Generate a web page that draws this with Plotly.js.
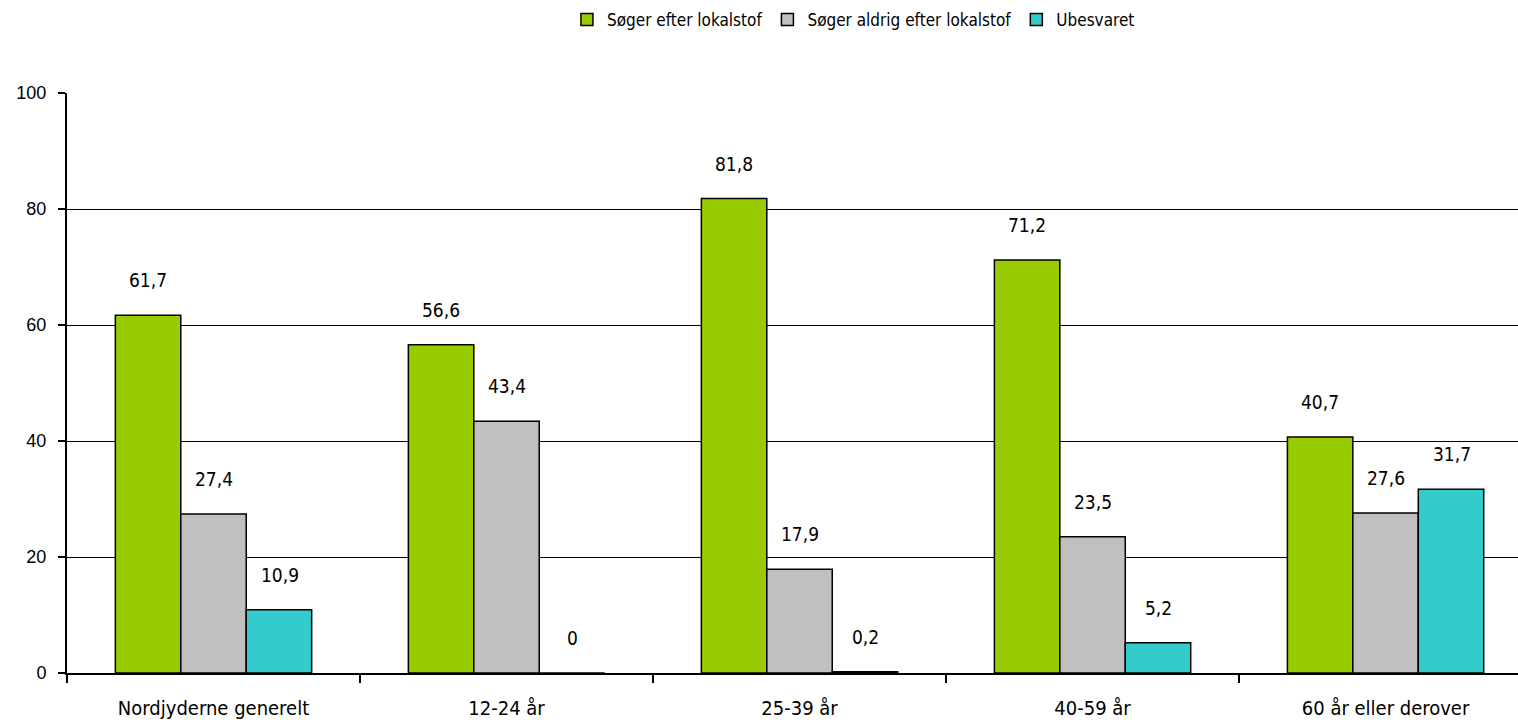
<!DOCTYPE html>
<html><head><meta charset="utf-8">
<script src="https://cdn.plot.ly/plotly-3.0.1.min.js"></script>
<style>html,body{margin:0;padding:0;background:#fff}#c{width:1518px;height:725px}</style>
</head><body><div id="c"></div>
<script>
const categories = ["Nordjyderne generelt", "12-24 år", "25-39 år", "40-59 år", "60 år eller derover"];
const seriesNames = ["Søger efter lokalstof", "Søger aldrig efter lokalstof", "Ubesvaret"];
const soeger = [61.7, 56.6, 81.8, 71.2, 40.7];
const aldrig = [27.4, 43.4, 17.9, 23.5, 27.6];
const ubesvaret = [10.9, 0, 0.2, 5.2, 31.7];
const colors = ["#99cc00", "#c0c0c0", "#33cccc"];
const yTicks = [0, 20, 40, 60, 80, 100];

const textFont = "'DejaVu Sans Condensed', Tahoma, 'DejaVu Sans', sans-serif";
const series = [soeger, aldrig, ubesvaret];
const traces = series.map((vals, i) => ({
  type: "bar", name: seriesNames[i], x: categories, y: vals,
  marker: {color: colors[i], line: {color: "#000", width: 1.5}},
  hoverinfo: "none"
}));
const shifts = [-66, 0, 66];
const annotations = [];
series.forEach((vals, i) => vals.forEach((v, j) => {
  annotations.push({x: categories[j], y: v, xref: "x", yref: "y", xshift: shifts[i], yshift: 35,
    text: String(v).replace(".", ","), showarrow: false,
    font: {family: textFont, size: 19, color: "#000"}});
}));
const layout = {
  width: 1518, height: 725,
  margin: {l: 67, r: 0, t: 93, b: 52, autoexpand: false},
  paper_bgcolor: "#fff", plot_bgcolor: "#fff",
  barmode: "group", bargap: 0.33, bargroupgap: 0,
  showlegend: true,
  legend: {orientation: "h", x: 0.542, xanchor: "center", y: 1.126, yanchor: "middle",
    xref: "paper", font: {family: textFont, size: 17, color: "#000"}, itemwidth: 30, traceorder: "normal"},
  xaxis: {type: "category", range: [-0.5, 4.452], showline: true, linecolor: "#000", linewidth: 2,
    ticks: "outside", tickson: "boundaries", ticklen: 8, tickcolor: "#000", tickwidth: 2,
    ticklabelstandoff: 16,
    showgrid: false, zeroline: false, automargin: false,
    tickfont: {family: textFont, size: 20, color: "#000"}},
  yaxis: {range: [0, 100], tickvals: yTicks, showline: true, linecolor: "#000", linewidth: 2,
    ticks: "outside", ticklen: 7, tickcolor: "#000", tickwidth: 2, ticklabelstandoff: 8,
    showgrid: true, gridcolor: "#000", gridwidth: 1, zeroline: false, automargin: false,
    tickfont: {family: "'Liberation Sans', Arial, sans-serif", size: 18, color: "#000"}},
  annotations: annotations
};
Plotly.newPlot("c", traces, layout, {displayModeBar: false, staticPlot: true});
</script></body></html>
